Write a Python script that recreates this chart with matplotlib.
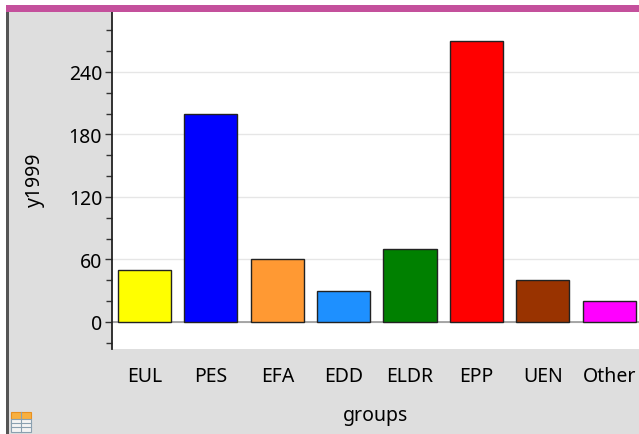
import matplotlib.pyplot as plt
from matplotlib.patches import Rectangle
from matplotlib.ticker import MultipleLocator
import numpy as np

plt.rcParams['font.family'] = ['Noto Sans', 'DejaVu Sans']

groups = ['EUL', 'PES', 'EFA', 'EDD', 'ELDR', 'EPP', 'UEN', 'Other']
y1999 = [50, 200, 60, 30, 70, 270, 40, 20]
bar_colors = ['#ffff00', '#0000ff', '#ff9933', '#1e90ff', '#008000', '#ff0000', '#993300', '#ff00ff']

W, H = 639, 435
fig = plt.figure(figsize=(W / 100, H / 100), dpi=100)
fig.patch.set_facecolor('#dedede')

# plot area in pixel coords
left, right, top, bottom = 112, 639, 13, 350
ax = fig.add_axes([left / W, 1 - bottom / H, (right - left) / W, (bottom - top) / H])
ax.set_facecolor('white')

x = np.arange(len(groups))
ax.bar(x, y1999, width=0.8, color=bar_colors, edgecolor='#222222', linewidth=1, zorder=3)
ax.axhline(0, color='#999999', linewidth=1.2, zorder=2)

ax.set_xlim(-0.49, 7.45)
ax.set_ylim(-26, 297.6)
ax.yaxis.set_major_locator(MultipleLocator(60))
ax.yaxis.set_minor_locator(MultipleLocator(20))
ax.grid(True, axis='y', which='major', color='#e6e6e6', linewidth=1, zorder=0)
ax.tick_params(axis='y', which='major', length=5, width=1, labelsize=14, color='#333333', pad=2)
ax.tick_params(axis='y', which='minor', length=4, width=1, color='#333333')
ax.set_xticks(x)
ax.set_xticklabels(groups, fontsize=14)
ax.tick_params(axis='x', length=0, pad=12)
for s in ['top', 'right', 'bottom']:
    ax.spines[s].set_visible(False)
ax.spines['left'].set_color('#222222')
ax.spines['left'].set_linewidth(1.3)

fig.text(35 / W, 1 - 180 / H, 'y1999', rotation=90, ha='center', va='center', fontsize=14)
fig.text(375 / W, 1 - 416 / H, 'groups', ha='center', va='center', fontsize=14)

# top magenta bar and left border line
fig.patches.append(Rectangle((0, 1 - 13 / H), 1, 7 / H, transform=fig.transFigure,
                             facecolor='#c4509c', edgecolor='none'))
fig.patches.append(Rectangle((0, 1 - 6 / H), 1, 6 / H, transform=fig.transFigure,
                             facecolor='white', edgecolor='none'))
fig.patches.append(Rectangle((0, 0), 6 / W, 1 - 6 / H, transform=fig.transFigure,
                             facecolor='white', edgecolor='none'))
fig.patches.append(Rectangle((6 / W, 0), 3 / W, 1 - 13 / H, transform=fig.transFigure,
                             facecolor='#555555', edgecolor='none'))

# little table icon, bottom-left
ix, iy, iw, ih = 11, 413, 20, 20
fig.patches.append(Rectangle((ix / W, 1 - (iy + 7) / H), iw / W, 7 / H, transform=fig.transFigure,
                             facecolor='#f8b040', edgecolor='#e89020', linewidth=0.8))
fig.patches.append(Rectangle((ix / W, 1 - (iy + ih) / H), iw / W, 13 / H, transform=fig.transFigure,
                             facecolor='#f4f4f4', edgecolor='#8aa0b0', linewidth=0.8))
for yy in [iy + 11, iy + 15]:
    fig.lines.append(plt.Line2D([ix / W, (ix + iw) / W], [1 - yy / H, 1 - yy / H],
                                transform=fig.transFigure, color='#8aa0b0', linewidth=0.8))
fig.lines.append(plt.Line2D([(ix + iw / 2) / W] * 2, [1 - (iy + ih) / H, 1 - iy / H],
                            transform=fig.transFigure, color='#8aa0b0', linewidth=0.8))

fig.savefig('out.png', dpi=100, facecolor=fig.get_facecolor())
